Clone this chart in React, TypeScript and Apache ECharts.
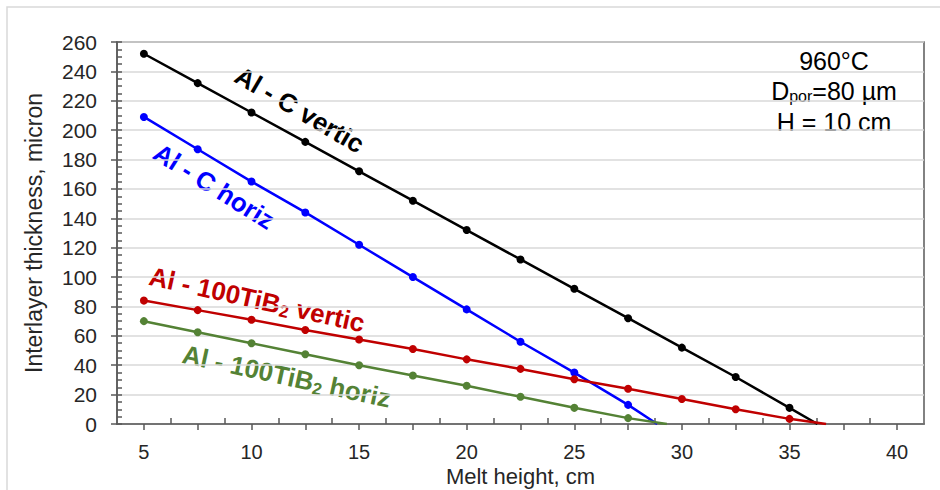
import React, { useEffect, useRef } from "react";
import * as echarts from "echarts";

const xValues = [5, 7.5, 10, 12.5, 15, 17.5, 20, 22.5, 25, 27.5, 30, 32.5, 35];
const alCVertic = [252, 232, 212, 192, 172, 152, 132, 112, 92, 72, 52, 32, 11];
const alCVerticEnd = [36.3, 0];
const alCHoriz = [209, 187, 165, 144, 122, 100, 78, 56, 35, 13];
const alCHorizEnd = [28.85, 0];
const tibVertic = [84, 77.5, 71, 64, 57.5, 51, 44, 37.5, 30.5, 24, 17, 10, 3.5];
const tibVerticEnd = [36.7, 0];
const tibHoriz = [70, 62.5, 55, 47.5, 40, 33, 26, 18.5, 11, 4];
const tibHorizEnd = [29.3, 0];

const xLabelValues = [5, 10, 15, 20, 25, 30, 35, 40];
const xOuterTicks = [5, 7.5, 10, 12.5, 15, 17.5, 20, 22.5, 25, 27.5, 30, 32.5, 35, 37.5, 40];
const xInnerTicks = [6.25, 8.75, 11.25, 13.75, 16.25, 18.75, 21.25, 23.75, 26.25, 28.75, 31.25, 33.75, 36.25, 38.75];

const FONT = "'Liberation Sans', Arial, sans-serif";

function buildSeries(name: string, ys: number[], end: number[], color: string) {
  const data: any[] = ys.map((y, i) => [xValues[i], y]);
  data.push({ value: end, symbol: "none" });
  return {
    name,
    type: "line",
    data,
    symbol: "circle",
    symbolSize: 8,
    itemStyle: { color },
    lineStyle: { color, width: 2.5 },
    z: 3,
  };
}

function richLabel(parts: string, color: string, size: number, subSize: number, bold: boolean, lh: number) {
  const w = bold ? "bold" : "normal";
  const drop = Math.round(size * 0.45);
  return {
    text: parts,
    rich: {
      a: { fontFamily: FONT, fontWeight: w, fontSize: size, lineHeight: lh, fill: color, color },
      s: { fontFamily: FONT, fontWeight: w, fontSize: subSize, lineHeight: lh - drop, fill: color, color, padding: [drop, 0, 0, 0] },
    },
  };
}

export default function App() {
  const ref = useRef<HTMLDivElement>(null);
  useEffect(() => {
    if (!ref.current) return;
    const chart = echarts.init(ref.current, null, { renderer: "svg" });
    const axisColor = "#595959";
    const baseX = {
      type: "value",
      min: 3.75,
      max: 41.25,
      position: "bottom",
      splitLine: { show: false },
    };
    chart.setOption({
      animation: false,
      backgroundColor: "#ffffff",
      grid: {
        left: 117,
        right: 16,
        top: 42,
        bottom: 66,
        show: true,
        borderColor: axisColor,
        borderWidth: 1.5,
        backgroundColor: "transparent",
        outerBoundsMode: "none",
        containLabel: false,
      },
      xAxis: [
        {
          ...baseX,
          name: "Melt height, cm",
          nameLocation: "middle",
          nameGap: 41,
          nameMoveOverlap: false,
          nameTextStyle: { fontFamily: FONT, fontSize: 22, lineHeight: 22, color: "#262626" },
          axisLine: { show: true, lineStyle: { color: axisColor, width: 1.5 } },
          axisTick: { show: true, inside: false, length: 6, customValues: xOuterTicks, lineStyle: { color: axisColor, width: 1.5 } },
          axisLabel: {
            customValues: xLabelValues,
            margin: 18,
            fontFamily: FONT,
            fontSize: 20,
            lineHeight: 20,
            color: "#262626",
          },
        },
        {
          ...baseX,
          axisLine: { show: false },
          axisTick: { show: true, inside: true, length: 6, customValues: xInnerTicks, lineStyle: { color: axisColor, width: 1.5 } },
          axisLabel: { show: false },
        },
      ],
      yAxis: [
        {
          type: "value",
          min: 0,
          max: 260,
          interval: 20,
          name: "Interlayer thickness, micron",
          nameLocation: "middle",
          nameGap: 72,
          nameMoveOverlap: false,
          nameTextStyle: { fontFamily: FONT, fontSize: 23, color: "#262626" },
          axisLine: { show: true, lineStyle: { color: axisColor, width: 1.5 } },
          axisTick: { show: true, inside: false, length: 6, lineStyle: { color: axisColor, width: 1.5 } },
          splitLine: { show: true, lineStyle: { color: "#d9d9d9", width: 1.5 } },
          axisLabel: { margin: 20, fontFamily: FONT, fontSize: 21, color: "#262626" },
        },
        {
          type: "value",
          min: 0,
          max: 260,
          interval: 5,
          position: "left",
          axisLine: { show: false },
          axisTick: { show: true, inside: true, length: 5, lineStyle: { color: axisColor, width: 1.5 } },
          splitLine: { show: false },
          axisLabel: { show: false },
        },
      ],
      series: [
        buildSeries("Al - C vertic", alCVertic, alCVerticEnd, "#000000"),
        buildSeries("Al - C horiz", alCHoriz, alCHorizEnd, "#0000ff"),
        buildSeries("Al - 100TiB2 vertic", tibVertic, tibVerticEnd, "#c00000"),
        buildSeries("Al - 100TiB2 horiz", tibHoriz, tibHorizEnd, "#548235"),
      ],
      graphic: [
        {
          type: "rect",
          shape: { x: 7, y: 7, width: 960, height: 500 },
          style: { fill: "none", stroke: "#d9d9d9", lineWidth: 1.5 },
          silent: true,
        },
        {
          type: "text",
          x: 244,
          y: 62,
          rotation: -0.53,
          style: { text: "Al - C vertic", fill: "#000000", font: `bold 26px ${FONT}` },
        },
        {
          type: "text",
          x: 163,
          y: 139,
          rotation: -0.56,
          style: { text: "Al - C horiz", fill: "#0000ff", font: `bold 26px ${FONT}` },
        },
        {
          type: "text",
          x: 153,
          y: 261,
          rotation: -0.22,
          style: richLabel("{a|Al - 100TiB}{s|2}{a| vertic}", "#c00000", 26, 17, true, 30),
        },
        {
          type: "text",
          x: 186,
          y: 339,
          rotation: -0.215,
          style: richLabel("{a|Al - 100TiB}{s|2}{a| horiz}", "#548235", 26, 17, true, 30),
        },
        {
          type: "text",
          x: 834,
          y: 61,
          style: { text: "960°C", fill: "#000000", font: `25px ${FONT}`, lineHeight: 24, align: "center", verticalAlign: "middle" },
        },
        {
          type: "text",
          x: 834,
          y: 91,
          style: {
            ...richLabel("{a|D}{s|por}{a|=80 µm}", "#000000", 25, 16, false, 24),
            align: "center",
            verticalAlign: "middle",
          },
        },
        {
          type: "text",
          x: 834,
          y: 122,
          style: { text: "H = 10 cm", fill: "#000000", font: `25px ${FONT}`, lineHeight: 22, align: "center", verticalAlign: "middle" },
        },
      ],
    });
    return () => chart.dispose();
  }, []);
  return (
    <div
      ref={ref}
      style={{ position: "absolute", left: 0, top: 0, width: 940, height: 490 }}
    />
  );
}
